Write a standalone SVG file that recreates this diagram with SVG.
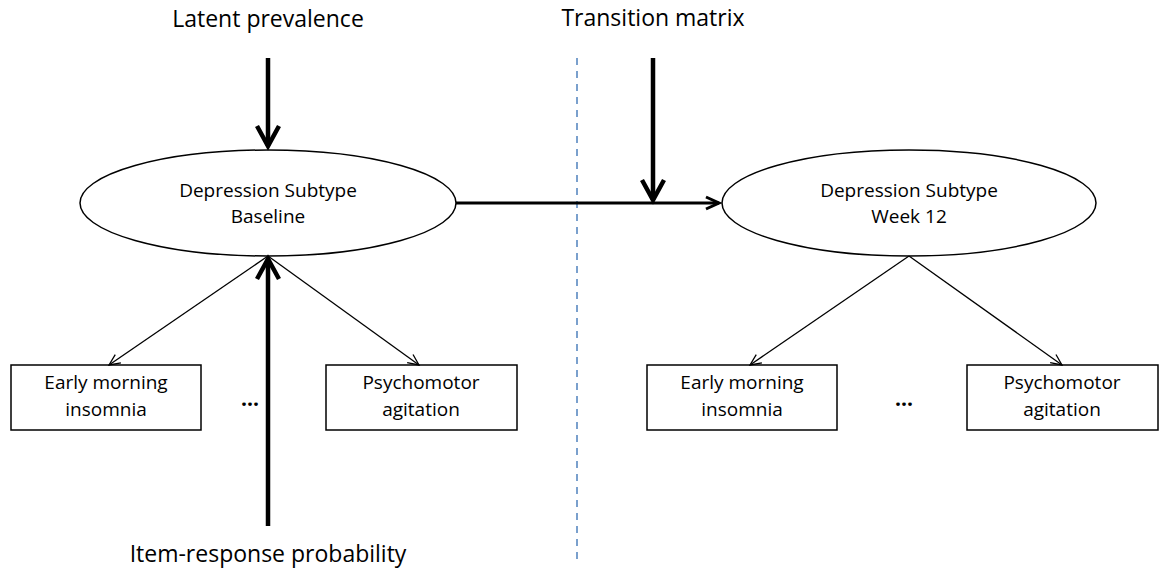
<svg xmlns="http://www.w3.org/2000/svg" width="1160" height="571" viewBox="0 0 1160 571">
<style>
  text { font-family: "Open Sans", "Noto Sans", "Liberation Sans", sans-serif; fill: #000; text-anchor: middle; }
  .title { font-size: 23px; }
  .lbl { font-size: 19px; }
  .dots { font-size: 21px; font-weight: bold; }
  .ell { fill: #fff; stroke: #000; stroke-width: 1.5; }
  .box { fill: #fff; stroke: #000; stroke-width: 1.5; }
  .thick { stroke: #000; stroke-width: 4.5; fill: none; }
  .mid { stroke: #000; stroke-width: 3; fill: none; }
  .thin { stroke: #000; stroke-width: 1.3; fill: none; }
  .dash { stroke: #4F81BD; stroke-width: 1.5; stroke-dasharray: 7 6; fill: none; }
</style>
<defs>
  <marker id="bigHead" markerUnits="userSpaceOnUse" viewBox="-25 -15 30 30" refX="0" refY="0" markerWidth="30" markerHeight="30" orient="auto" overflow="visible">
    <path d="M -20 -11 L 0 0 L -20 11" fill="none" stroke="#000" stroke-width="4.5" stroke-linejoin="miter" stroke-miterlimit="10"/>
  </marker>
  <marker id="midHead" markerUnits="userSpaceOnUse" viewBox="-15 -10 20 20" refX="0" refY="0" markerWidth="20" markerHeight="20" orient="auto" overflow="visible">
    <path d="M -13 -6 L 0 0 L -13 6" fill="none" stroke="#000" stroke-width="3" stroke-miterlimit="10"/>
  </marker>
  <marker id="thinHead" markerUnits="userSpaceOnUse" viewBox="-12 -8 16 16" refX="0" refY="0" markerWidth="16" markerHeight="16" orient="auto" overflow="visible">
    <path d="M -11 -5 L 0 0 L -11 5" fill="none" stroke="#000" stroke-width="1.3"/>
  </marker>
</defs>

<g id="divider">
  <line class="dash" x1="577" y1="58" x2="577" y2="562"/>
</g>

<g id="label-latent"><text class="title" x="268" y="27">Latent prevalence</text></g>
<g id="label-transition"><text class="title" x="653" y="26">Transition matrix</text></g>
<g id="label-item"><text class="title" x="268" y="562">Item-response probability</text></g>

<g id="node-baseline">
  <ellipse class="ell" cx="268" cy="203" rx="188" ry="53"/>
  <text class="lbl" x="268" y="197">Depression Subtype</text>
  <text class="lbl" x="268" y="223">Baseline</text>
</g>
<g id="node-week12">
  <ellipse class="ell" cx="909" cy="203" rx="187" ry="53"/>
  <text class="lbl" x="909" y="197">Depression Subtype</text>
  <text class="lbl" x="909" y="223">Week 12</text>
</g>

<g id="node-early-1">
  <rect class="box" x="11" y="365" width="190" height="65"/>
  <text class="lbl" x="106" y="389">Early morning</text>
  <text class="lbl" x="106" y="416">insomnia</text>
</g>
<g id="node-psycho-1">
  <rect class="box" x="326" y="365" width="191" height="65"/>
  <text class="lbl" x="421" y="389">Psychomotor</text>
  <text class="lbl" x="421" y="416">agitation</text>
</g>
<g id="node-early-2">
  <rect class="box" x="647" y="365" width="190" height="65"/>
  <text class="lbl" x="742" y="389">Early morning</text>
  <text class="lbl" x="742" y="416">insomnia</text>
</g>
<g id="node-psycho-2">
  <rect class="box" x="967" y="365" width="191" height="65"/>
  <text class="lbl" x="1062" y="389">Psychomotor</text>
  <text class="lbl" x="1062" y="416">agitation</text>
</g>

<g id="ellipsis-1"><text class="dots" x="250" y="406">...</text></g>
<g id="ellipsis-2"><text class="dots" x="904" y="406">...</text></g>

<g id="connectors">
  <line class="thick" x1="268" y1="58" x2="268" y2="146" marker-end="url(#bigHead)"/>
  <line class="thick" x1="268" y1="526" x2="268" y2="259" marker-end="url(#bigHead)"/>
  <line class="thick" x1="653" y1="58" x2="653" y2="200" marker-end="url(#bigHead)"/>
  <line class="mid" x1="456" y1="203" x2="719" y2="203" marker-end="url(#midHead)"/>
  <line class="thin" x1="268" y1="256" x2="109" y2="365" marker-end="url(#thinHead)"/>
  <line class="thin" x1="268" y1="256" x2="419" y2="365" marker-end="url(#thinHead)"/>
  <line class="thin" x1="909" y1="256" x2="750" y2="365" marker-end="url(#thinHead)"/>
  <line class="thin" x1="909" y1="256" x2="1062" y2="365" marker-end="url(#thinHead)"/>
</g>
</svg>
